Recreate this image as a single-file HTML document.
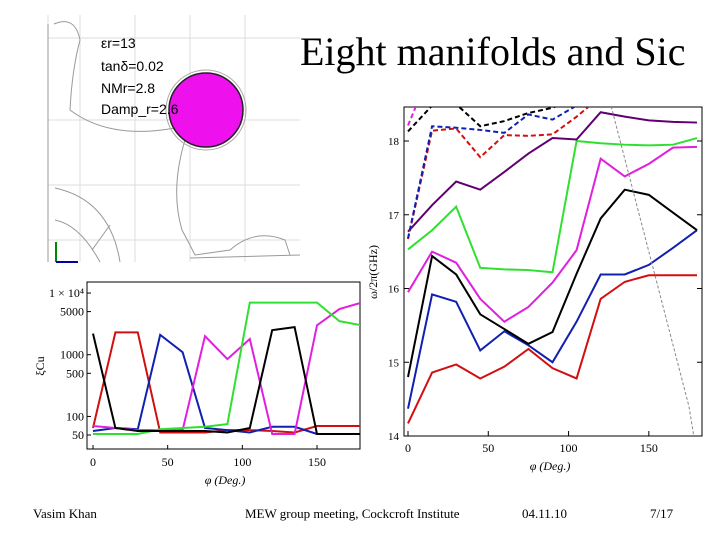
<!DOCTYPE html>
<html><head><meta charset="utf-8"><style>
body{margin:0;width:720px;height:540px;background:#fff;overflow:hidden;font-family:"Liberation Serif",serif}
svg{position:absolute;left:0;top:0}
</style></head><body>
<svg id="s" width="720" height="540" xmlns="http://www.w3.org/2000/svg">
<g id="geom" fill="none" stroke="#ddd" stroke-width="1">
  <line x1="48" y1="15" x2="48" y2="262"/>
  <line x1="80" y1="15" x2="80" y2="262"/><line x1="135" y1="15" x2="135" y2="262"/>
  <line x1="190" y1="15" x2="190" y2="262"/><line x1="245" y1="15" x2="245" y2="262"/>
  <line x1="48" y1="38" x2="300" y2="38"/><line x1="48" y1="120" x2="300" y2="120"/>
  <line x1="48" y1="185" x2="300" y2="185"/><line x1="48" y1="240" x2="300" y2="240"/>
  <g stroke="#999">
  <path d="M54,24 Q75,15 80,40 Q72,70 70,110 Q110,140 175,128"/>
  <path d="M55,188 Q110,200 120,262"/>
  <path d="M55,220 Q80,225 100,262"/>
  <path d="M92,250 L110,225"/>
  <path d="M185,140 Q170,190 182,230 Q190,245 195,255 L230,250 Q255,228 285,240 L290,255"/>
  <path d="M190,258 L300,255"/>
  <line x1="48" y1="24" x2="48" y2="262"/>
  </g>
  <circle cx="206" cy="110" r="40" stroke="#aaa"/>
  <circle cx="206" cy="110" r="37" fill="#ee11ee" stroke="#222" stroke-width="1.5"/>
  <line x1="56" y1="262" x2="56" y2="242" stroke="#080" stroke-width="2"/>
  <line x1="56" y1="262" x2="78" y2="262" stroke="#00a" stroke-width="2"/>
</g>
<g font-family="Liberation Sans, sans-serif" font-size="14" fill="#000">
  <text x="101" y="48">εr=13</text><text x="101" y="71">tanδ=0.02</text>
  <text x="101" y="93">NMr=2.8</text><text x="101" y="114">Damp_r=2.6</text>
</g>
<text x="300" y="65" font-size="40">Eight manifolds and Sic</text>
<g id="lc"></g>
<g id="rc"></g>
<g font-size="13">
  <text x="33" y="518">Vasim Khan</text>
  <text x="245" y="518">MEW group meeting, Cockcroft Institute</text>
  <text x="522" y="518">04.11.10</text>
  <text x="650" y="518">7/17</text>
</g>
</svg>
<script>
const phi=[0,15,30,45,60,75,90,105,120,135,150,165,180];
const qRed=[65,2300,2300,55,55,55,60,60,58,55,70,70,70];
const qBlack=[2200,65,58,58,58,58,55,65,2500,2800,52,52,52];
const qBlue=[58,65,62,2100,1100,65,60,55,68,68,52,52,52];
const qMagenta=[70,65,60,60,60,2000,850,1800,52,52,3000,5500,7000];
const qGreen=[52,52,52,62,65,68,75,7000,7000,7000,7000,3500,3000];
const qTicks=[50,100,500,1000,5000,10000];
const qTickLabels=["50","100","500","1000","5000","1 × 10⁴"];
const xTicks=[0,50,100,150];
const fRed=[14.17,14.86,14.97,14.78,14.94,15.18,14.92,14.78,15.86,16.09,16.18,16.18,16.18];
const fBlue=[14.37,15.92,15.82,15.16,15.42,15.23,15.0,15.55,16.19,16.19,16.32,16.55,16.79];
const fBlack=[14.8,16.44,16.19,15.65,15.45,15.25,15.41,16.2,16.95,17.34,17.27,17.03,16.79];
const fMagenta=[15.95,16.5,16.35,15.86,15.55,15.75,16.08,16.52,17.76,17.52,17.69,17.91,17.92];
const fGreen=[16.53,16.79,17.11,16.28,16.26,16.25,16.22,18.0,17.97,17.95,17.94,17.95,18.04];
const fPurple=[16.77,17.13,17.45,17.34,17.58,17.83,18.04,18.02,18.39,18.33,18.28,18.26,18.25];
const fRedDash=[16.67,18.14,18.17,17.78,18.08,18.07,18.09,18.33,18.6];
const fBlueDash=[16.68,18.2,18.18,18.15,18.11,18.36,18.29,18.48,18.7];
const fBlackDash=[18.13,18.48,18.5,18.2,18.27,18.38,18.45,18.6];
const fMagentaDash=[18.21,19.0];
const grayPhi=[125,175,178];
const grayF=[18.6,14.4,14.0];
const fTicks=[14,15,16,17,18];
const NS="http://www.w3.org/2000/svg";
function mk(p,t,a){const e=document.createElementNS(NS,t);for(const k in a)e.setAttribute(k,a[k]);p.appendChild(e);return e;}
const L=document.getElementById('lc');
const lx=d=>93+d*224/150, ly=v=>435-(Math.log10(v)-Math.log10(50))*61.7;
const lf=mk(L,'rect',{x:87,y:282,width:273,height:167,fill:'none',stroke:'#000','stroke-width':1});


const lcp=mk(L,'clipPath',{id:'lclip'});mk(lcp,'rect',{x:87,y:282,width:273,height:167});
qTicks.forEach((v,i)=>{mk(L,'line',{x1:87,x2:91,y1:ly(v),y2:ly(v),stroke:'#000'});
 const t=mk(L,'text',{x:84,y:ly(v)+4,'text-anchor':'end','font-size':12});t.textContent=qTickLabels[i];
 });
xTicks.forEach(v=>{mk(L,'line',{x1:lx(v),x2:lx(v),y1:449,y2:445,stroke:'#000'});
 const t=mk(L,'text',{x:lx(v),y:466,'text-anchor':'middle','font-size':12});t.textContent=v;
 });
let t1=mk(L,'text',{x:225,y:484,'text-anchor':'middle','font-size':12,'font-style':'italic'});t1.textContent='φ (Deg.)';

let t2=mk(L,'text',{x:44,y:366,'text-anchor':'middle','font-size':12,transform:'rotate(-90 44 366)'});t2.textContent='ξCu';

[[qRed,'#d01010','red'],[qBlue,'#1020b0','blue'],[qMagenta,'#e020e0','magenta'],[qGreen,'#30e030','green'],[qBlack,'#000','black']].forEach(([s,c,n])=>{
 const p=mk(L,'polyline',{points:s.map((v,i)=>lx(phi[i])+','+ly(v)).join(' '),fill:'none',stroke:c,'stroke-width':2,'clip-path':'url(#lclip)'});
 });
const R=document.getElementById('rc');
const rx=d=>408+d*289/180, ry=v=>436-(v-14)*73.75;
const rf=mk(R,'rect',{x:404,y:107,width:298,height:329,fill:'none',stroke:'#000','stroke-width':1});

const rcp=mk(R,'clipPath',{id:'rclip'});mk(rcp,'rect',{x:404,y:107,width:298,height:329});
fTicks.forEach(v=>{mk(R,'line',{x1:404,x2:409,y1:ry(v),y2:ry(v),stroke:'#000'});mk(R,'line',{x1:697,x2:702,y1:ry(v),y2:ry(v),stroke:'#000'});
 const t=mk(R,'text',{x:399,y:ry(v)+4,'text-anchor':'end','font-size':11});t.textContent=v;
 });
xTicks.forEach(v=>{mk(R,'line',{x1:rx(v),x2:rx(v),y1:436,y2:431,stroke:'#000'});
 const t=mk(R,'text',{x:rx(v),y:452,'text-anchor':'middle','font-size':12});t.textContent=v;
 });
let t3=mk(R,'text',{x:550,y:470,'text-anchor':'middle','font-size':12,'font-style':'italic'});t3.textContent='φ (Deg.)';

let t4=mk(R,'text',{x:377,y:272,'text-anchor':'middle','font-size':12,transform:'rotate(-90 377 272)'});t4.textContent='ω/2π(GHz)';

const ser=[[fRed,'#d01010','red',0],[fBlue,'#1020b0','blue',0],[fBlack,'#000','black',0],[fMagenta,'#e020e0','magenta',0],[fGreen,'#30e030','green',0],[fPurple,'#600070','purple',0],
 [fRedDash,'#d01010','red-dashed',1],[fBlueDash,'#1020b0','blue-dashed',1],[fBlackDash,'#000','black-dashed',1],[fMagentaDash,'#e020e0','magenta-dashed',1]];
ser.forEach(([s,c,n,d])=>{
 const a={points:s.map((v,i)=>rx(phi[i])+','+ry(v)).join(' '),fill:'none',stroke:c,'stroke-width':2,'clip-path':'url(#rclip)'};
 if(d)a['stroke-dasharray']='5,3';
 const p=mk(R,'polyline',a);
 });
const g=mk(R,'polyline',{points:grayPhi.map((v,i)=>rx(v)+','+ry(grayF[i])).join(' '),fill:'none',stroke:'#888','stroke-width':1,'stroke-dasharray':'3,2','clip-path':'url(#rclip)'});

</script>
</body></html>
